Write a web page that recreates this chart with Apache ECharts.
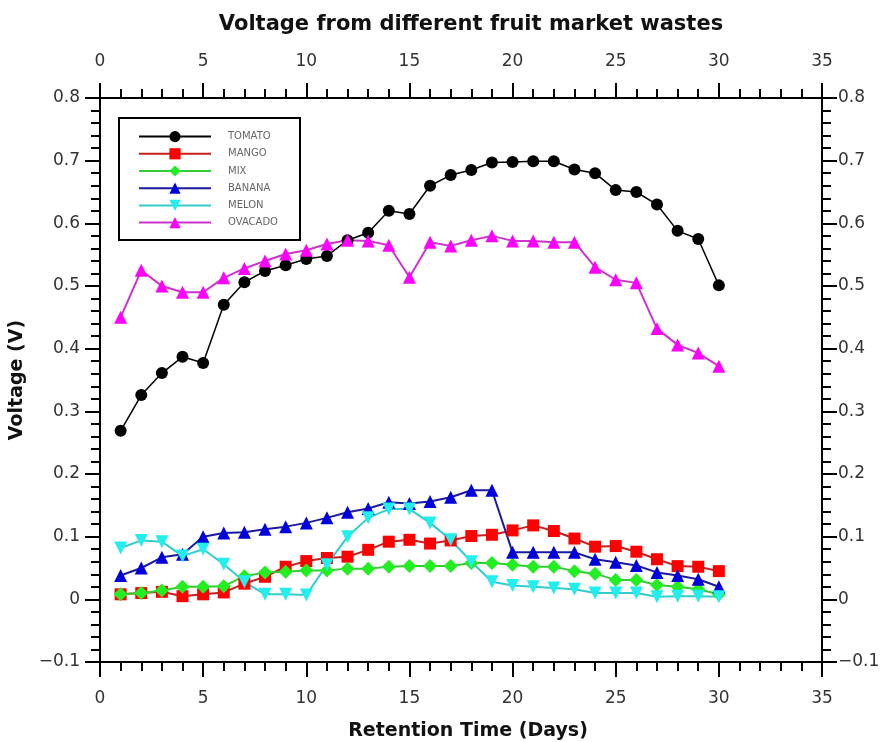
<!DOCTYPE html>
<html><head><meta charset="utf-8">
<script src="https://cdn.jsdelivr.net/npm/echarts@6/dist/echarts.min.js"></script>
<style>html,body{margin:0;padding:0;background:#fff}#c{width:885px;height:742px}</style>
</head><body><div id="c"></div>
<script>
const days = [1,2,3,4,5,6,7,8,9,10,11,12,13,14,15,16,17,18,19,20,21,22,23,24,25,26,27,28,29,30];
const tomato = [0.269,0.326,0.361,0.387,0.377,0.470,0.506,0.524,0.533,0.543,0.548,0.573,0.585,0.620,0.615,0.660,0.677,0.685,0.697,0.698,0.699,0.699,0.686,0.680,0.653,0.650,0.630,0.588,0.575,0.501];
const mango = [0.008,0.010,0.012,0.005,0.008,0.011,0.025,0.036,0.052,0.061,0.066,0.068,0.079,0.092,0.095,0.089,0.094,0.101,0.103,0.110,0.118,0.109,0.097,0.084,0.085,0.076,0.064,0.053,0.052,0.045];
const mix = [0.008,0.010,0.014,0.020,0.020,0.021,0.037,0.043,0.044,0.046,0.046,0.049,0.049,0.052,0.053,0.053,0.053,0.058,0.058,0.055,0.052,0.052,0.045,0.041,0.031,0.031,0.023,0.020,0.016,0.008];
const banana = [0.038,0.050,0.067,0.072,0.100,0.106,0.107,0.112,0.116,0.122,0.130,0.139,0.145,0.155,0.153,0.156,0.163,0.174,0.174,0.075,0.075,0.075,0.075,0.064,0.059,0.054,0.043,0.038,0.032,0.020];
const melon = [0.082,0.094,0.092,0.069,0.080,0.056,0.028,0.008,0.008,0.007,0.055,0.100,0.130,0.144,0.144,0.122,0.095,0.060,0.028,0.022,0.020,0.018,0.016,0.010,0.010,0.010,0.004,0.005,0.005,0.004];
const ovacado = [0.450,0.525,0.500,0.490,0.490,0.513,0.528,0.540,0.551,0.557,0.567,0.573,0.572,0.565,0.514,0.570,0.564,0.573,0.580,0.572,0.572,0.570,0.570,0.530,0.510,0.505,0.432,0.406,0.393,0.372];
const seriesNames = ['TOMATO','MANGO','MIX','BANANA','MELON','OVACADO'];
const xTicks = {min:0, max:35, interval:5};
const yTicks = {min:-0.1, max:0.8, interval:0.1};

const allValues = [tomato, mango, mix, banana, melon, ovacado];
const styles = [
  {symbol:'circle', size:12, mc:'#000000', lc:'#000000', lw:1.5},
  {symbol:'rect', size:12, mc:'#ff0000', lc:'#c81e1e', lw:2},
  {symbol:'diamond', size:14, mc:'#22ee22', lc:'#33cc33', lw:2},
  {symbol:'triangle', size:13, mc:'#0000dd', lc:'#1a1aa0', lw:2},
  {symbol:'path://M0,0 L10,0 L5,9 Z', size:13, mc:'#22eeee', lc:'#33cccc', lw:2},
  {symbol:'triangle', size:13, mc:'#ff00ff', lc:'#cc33cc', lw:2}
];
const font = '"DejaVu Sans", Verdana, sans-serif';
const fmtY = v => Math.abs(v) < 1e-9 ? '0' : v.toFixed(1).replace('-', '\u2212');

const series = seriesNames.map((n, i) => ({
  name: n, type: 'line', xAxisIndex: 0, yAxisIndex: 0,
  data: days.map((d, k) => [d, allValues[i][k]]),
  symbol: styles[i].symbol, symbolSize: styles[i].size,
  itemStyle: {color: styles[i].mc, borderWidth: 0},
  lineStyle: {color: styles[i].lc, width: styles[i].lw},
  emphasis: {disabled: true}, animation: false
}));

const axisCommon = {
  axisLine: {show: true, onZero: false, lineStyle: {color: '#000', width: 2}},
  axisTick: {show: true, inside: false, length: 15, lineStyle: {color: '#000', width: 2}},
  minorTick: {show: true, splitNumber: 5, length: 9, lineStyle: {color: '#000', width: 2}},
  splitLine: {show: false},
  axisLabel: {color: '#333', fontSize: 17, fontFamily: font}
};

const chart = echarts.init(document.getElementById('c'), null, {renderer: 'canvas'});
chart.setOption({
  animation: false,
  backgroundColor: '#fff',
  title: {text: 'Voltage from different fruit market wastes', left: 466, textAlign: 'center', top: 9,
    textStyle: {fontSize: 21, fontWeight: 'bold', color: '#111', fontFamily: font}},
  grid: {left: 100, right: 63, top: 98, bottom: 80, containLabel: false, outerBoundsMode: 'none'},
  legend: {
    data: seriesNames, orient: 'vertical', left: 138, top: 131, itemWidth: 72, itemHeight: 14, itemGap: 6,
    padding: 0, textStyle: {fontSize: 10, color: '#666', fontFamily: font, padding: [0,0,0,12]},
    selectedMode: false
  },
  graphic: [{type: 'rect', shape: {x: 119, y: 118, width: 181, height: 122}, style: {fill: 'none', stroke: '#000', lineWidth: 2}, z: 10}],
  xAxis: [
    Object.assign({}, axisCommon, {type: 'value', position: 'bottom', min: xTicks.min, max: xTicks.max, interval: xTicks.interval,
      name: 'Retention Time (Days)', nameLocation: 'middle', nameGap: 60,
      nameTextStyle: {fontSize: 19, fontWeight: 'bold', color: '#111', fontFamily: font, padding: [0,0,0,14]},
      axisLabel: Object.assign({}, axisCommon.axisLabel, {margin: 28})}),
    Object.assign({}, axisCommon, {type: 'value', position: 'top', min: xTicks.min, max: xTicks.max, interval: xTicks.interval,
      axisLabel: Object.assign({}, axisCommon.axisLabel, {margin: 28})})
  ],
  yAxis: [
    Object.assign({}, axisCommon, {type: 'value', position: 'left', min: yTicks.min, max: yTicks.max, interval: yTicks.interval,
      name: 'Voltage (V)', nameLocation: 'middle', nameGap: 73, nameRotate: 90,
      nameTextStyle: {fontSize: 19, fontWeight: 'bold', color: '#111', fontFamily: font},
      axisLabel: Object.assign({}, axisCommon.axisLabel, {margin: 20, formatter: fmtY})}),
    Object.assign({}, axisCommon, {type: 'value', position: 'right', min: yTicks.min, max: yTicks.max, interval: yTicks.interval,
      axisLabel: Object.assign({}, axisCommon.axisLabel, {margin: 16, formatter: fmtY})})
  ],
  series: series
});
</script></body></html>
